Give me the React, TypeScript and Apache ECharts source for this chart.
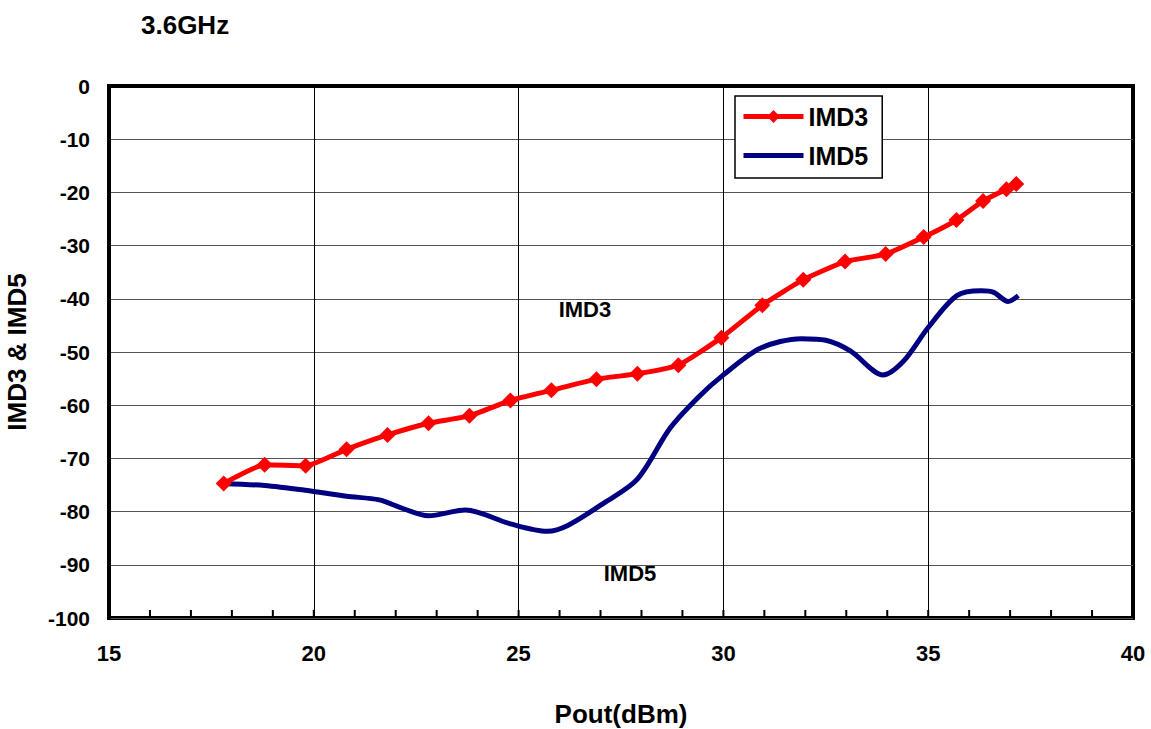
import React, { useEffect, useRef } from "react";
import * as echarts from "echarts";

const titleText = "3.6GHz";
const xName = "Pout(dBm)";
const yName = "IMD3 & IMD5";

const imd3X = [17.8, 18.8, 19.8, 20.8, 21.8, 22.8, 23.8, 24.8, 25.8, 26.9, 27.9, 28.9, 29.95, 30.95, 31.95, 32.97, 33.96, 34.89, 35.69, 36.34, 36.91, 37.15];
const imd3Y = [-74.7, -71.2, -71.4, -68.3, -65.6, -63.4, -62.0, -59.1, -57.2, -55.1, -54.1, -52.5, -47.3, -41.2, -36.4, -33.0, -31.6, -28.4, -25.2, -21.6, -19.4, -18.4];

const imd5X = [17.8, 18.8, 19.8, 20.8, 21.6, 22.1, 22.8, 23.7, 24.8, 25.7, 26.2, 27.1, 27.9, 28.7, 29.4, 30.0, 30.9, 31.9, 32.5, 33.1, 33.9, 34.4, 35.0, 35.7, 36.3, 36.6, 36.95, 37.2];
const imd5Y = [-74.7, -75.1, -76.0, -77.1, -77.8, -79.2, -80.8, -79.7, -82.3, -83.7, -82.6, -78.3, -73.9, -64.3, -58.4, -54.3, -49.3, -47.5, -47.8, -49.8, -54.3, -51.7, -45.4, -39.4, -38.5, -38.8, -40.5, -39.4];

const minorTickValues = [16, 17, 18, 19, 20, 21, 22, 23, 24, 25, 26, 27, 28, 29, 30, 31, 32, 33, 34, 35, 36, 37, 38, 39];

const imd3Note = { x: 26.62, y: -42.0, text: "IMD3" };
const imd5Note = { x: 27.72, y: -91.7, text: "IMD5" };

const FONT = "'Liberation Sans', Arial, sans-serif";

export default function App() {
  const ref = useRef<HTMLDivElement>(null);
  useEffect(() => {
    document.body.style.margin = "0";
    const chart = echarts.init(ref.current!, null, { renderer: "svg" });
    const noteLabel = (t: string) => ({
      show: true,
      position: "inside",
      formatter: t,
      color: "#000",
      fontSize: 22,
      fontWeight: "bold",
      fontFamily: FONT,
    });
    chart.setOption({
      animation: false,
      backgroundColor: "#fff",
      textStyle: { fontFamily: FONT },
      title: {
        text: titleText,
        left: 136,
        top: 7,
        textStyle: { fontSize: 26, fontWeight: "bold", color: "#000", fontFamily: FONT },
      },
      grid: {
        left: 109,
        right: 18,
        top: 86,
        bottom: 111,
        show: true,
        borderColor: "#000",
        borderWidth: 4,
        backgroundColor: "transparent",
        containLabel: false,
        outerBoundsMode: "none",
      },
      legend: {
        orient: "vertical",
        left: 735,
        top: 96,
        padding: [8, 14, 10, 6],
        itemGap: 14,
        itemWidth: 60,
        itemHeight: 16,
        backgroundColor: "#fff",
        borderColor: "#000",
        borderWidth: 1.5,
        borderRadius: 0,
        textStyle: { fontSize: 25, fontWeight: "bold", color: "#000", fontFamily: FONT },
        data: [
          { name: "IMD3", lineStyle: { width: 5 } },
          { name: "IMD5", icon: "path://M0 0 H60 V5 H0 Z", itemStyle: { color: "#000080" } },
        ],
      },
      xAxis: {
        type: "value",
        min: 15,
        max: 40,
        interval: 5,
        name: xName,
        nameLocation: "middle",
        nameGap: 83,
        nameTextStyle: { fontSize: 26, fontWeight: "bold", color: "#000", fontFamily: FONT },
        axisLine: { show: true, lineStyle: { color: "#000", width: 4 } },
        axisTick: { show: false },
        axisLabel: { fontSize: 22, fontWeight: "bold", color: "#000", margin: 24, fontFamily: FONT },
        splitLine: { show: true, lineStyle: { color: "#000", width: 1 } },
      },
      yAxis: {
        type: "value",
        min: -100,
        max: 0,
        interval: 10,
        name: yName,
        nameLocation: "middle",
        nameGap: 79,
        nameRotate: 90,
        nameTextStyle: { fontSize: 26, fontWeight: "bold", color: "#000", fontFamily: FONT },
        axisLine: { show: true, lineStyle: { color: "#000", width: 4 } },
        axisTick: { show: false },
        axisLabel: { fontSize: 21, fontWeight: "bold", color: "#000", margin: 19, fontFamily: FONT },
        splitLine: { show: true, lineStyle: { color: "#555", width: 1.2 } },
      },
      series: [
        {
          name: "ticks",
          type: "custom",
          silent: true,
          z: 5,
          clip: false,
          data: minorTickValues.map((v) => [v, -100]),
          encode: { x: 0, y: 1 },
          renderItem: (params: any, api: any) => {
            const p = api.coord([api.value(0), api.value(1)]);
            return {
              type: "line",
              shape: { x1: p[0], y1: p[1] - 2, x2: p[0], y2: p[1] - 8 },
              style: { stroke: "#000", lineWidth: 2 },
            };
          },
        },
        {
          name: "IMD5",
          type: "line",
          data: imd5X.map((x, i) => [x, imd5Y[i]]),
          smooth: 0.3,
          showSymbol: false,
          symbol: "none",
          lineStyle: { color: "#000080", width: 5 },
          itemStyle: { color: "#000080" },
          markPoint: {
            symbol: "circle",
            symbolSize: 0,
            data: [{ coord: [imd5Note.x, imd5Note.y], label: noteLabel(imd5Note.text) }],
          },
        },
        {
          name: "IMD3",
          type: "line",
          data: imd3X.map((x, i) => [x, imd3Y[i]]),
          smooth: 0.15,
          symbol: "diamond",
          symbolSize: 16,
          lineStyle: { color: "#ff0000", width: 5 },
          itemStyle: { color: "#ff0000" },
          markPoint: {
            symbol: "circle",
            symbolSize: 0,
            data: [{ coord: [imd3Note.x, imd3Note.y], label: noteLabel(imd3Note.text) }],
          },
        },
      ],
    });
    return () => chart.dispose();
  }, []);
  return <div ref={ref} style={{ width: 1151, height: 729 }} />;
}
